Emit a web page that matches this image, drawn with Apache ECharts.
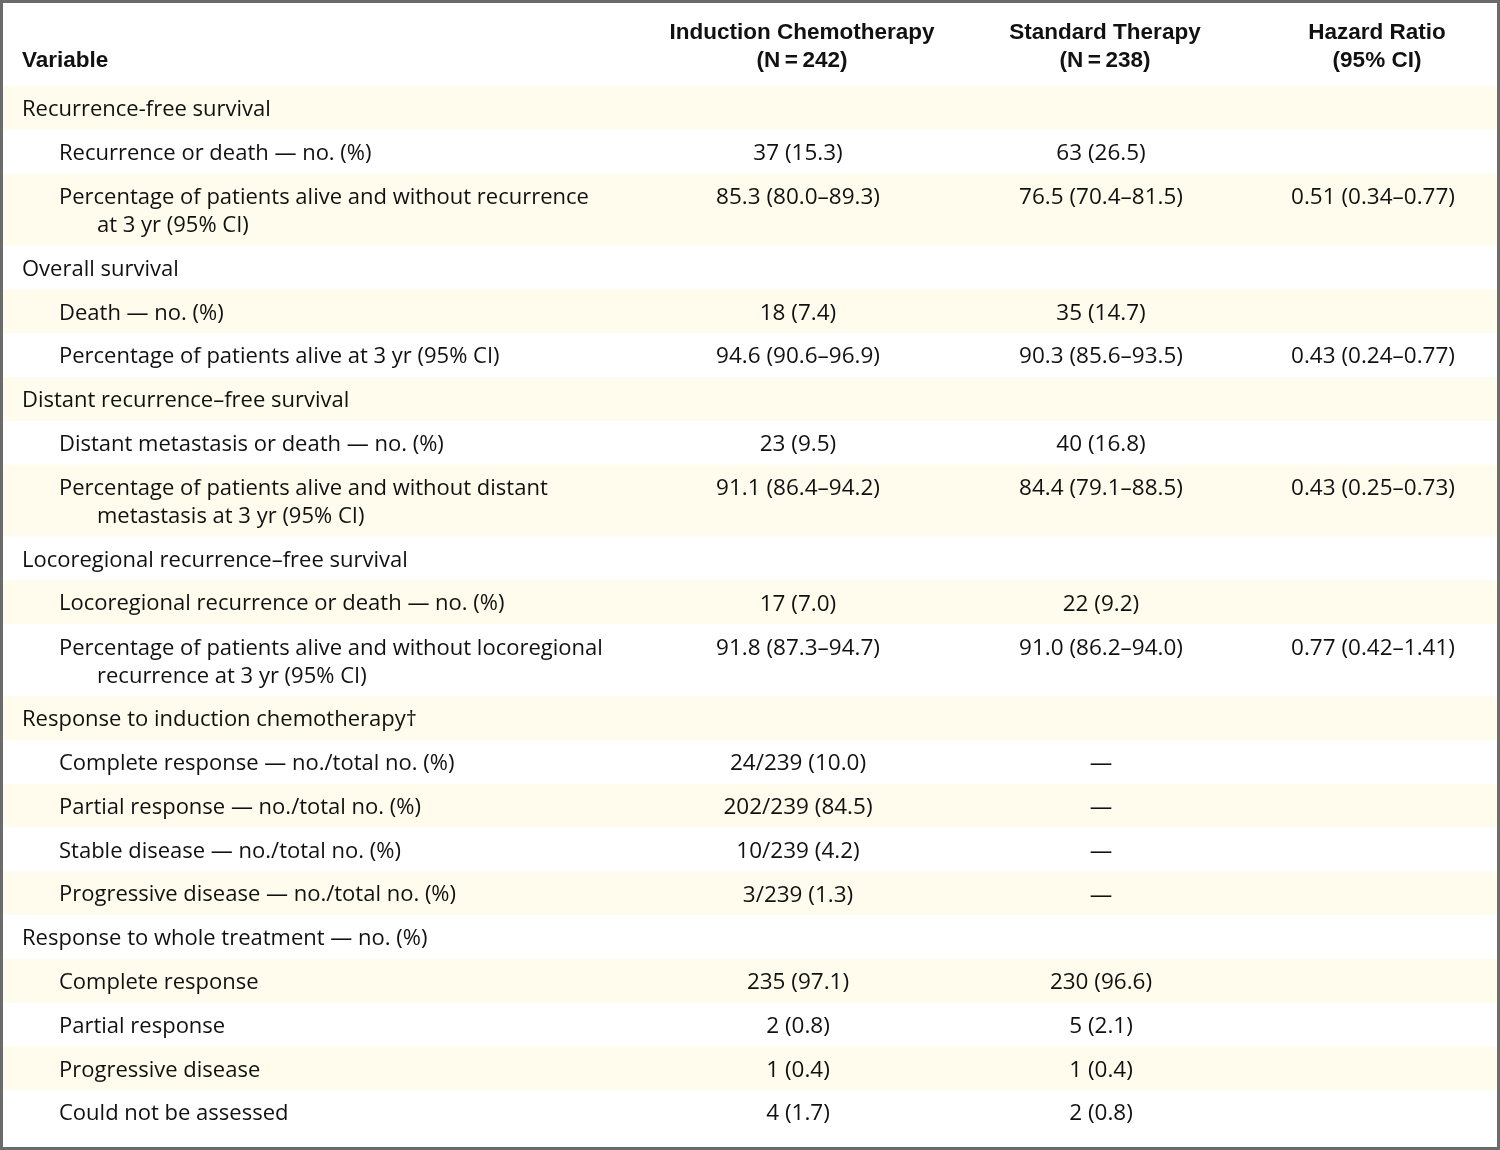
<!DOCTYPE html>
<html>
<head>
<meta charset="utf-8">
<script src="https://cdn.jsdelivr.net/npm/echarts@6/dist/echarts.min.js"></script>
<style>
html,body{margin:0;padding:0;background:#fff;}
#chart{width:1500px;height:1150px;}
</style>
</head>
<body>
<div id="chart"></div>
<script>
// ---- DATA ----
const headerLabels = ['Variable', 'Induction Chemotherapy', 'Standard Therapy', 'Hazard Ratio'];
const headerSubLabels = ['', '(N\u2009=\u2009242)', '(N\u2009=\u2009238)', '(95% CI)'];

const rowLabels = [
  'Recurrence-free survival',
  'Recurrence or death \u2014 no. (%)',
  'Percentage of patients alive and without recurrence',
  'Overall survival',
  'Death \u2014 no. (%)',
  'Percentage of patients alive at 3 yr (95% CI)',
  'Distant recurrence\u2013free survival',
  'Distant metastasis or death \u2014 no. (%)',
  'Percentage of patients alive and without distant',
  'Locoregional recurrence\u2013free survival',
  'Locoregional recurrence or death \u2014 no. (%)',
  'Percentage of patients alive and without locoregional',
  'Response to induction chemotherapy\u2020',
  'Complete response \u2014 no./total no. (%)',
  'Partial response \u2014 no./total no. (%)',
  'Stable disease \u2014 no./total no. (%)',
  'Progressive disease \u2014 no./total no. (%)',
  'Response to whole treatment \u2014 no. (%)',
  'Complete response',
  'Partial response',
  'Progressive disease',
  'Could not be assessed'
];
const rowContinuations = ['', '', 'at 3 yr (95% CI)', '', '', '', '', '', 'metastasis at 3 yr (95% CI)', '', '', 'recurrence at 3 yr (95% CI)', '', '', '', '', '', '', '', '', '', ''];
const rowIndentLevels = [0, 1, 1, 0, 1, 1, 0, 1, 1, 0, 1, 1, 0, 1, 1, 1, 1, 0, 1, 1, 1, 1];

const inductionValues = ['', '37 (15.3)', '85.3 (80.0\u201389.3)', '', '18 (7.4)', '94.6 (90.6\u201396.9)', '', '23 (9.5)', '91.1 (86.4\u201394.2)', '', '17 (7.0)', '91.8 (87.3\u201394.7)', '', '24/239 (10.0)', '202/239 (84.5)', '10/239 (4.2)', '3/239 (1.3)', '', '235 (97.1)', '2 (0.8)', '1 (0.4)', '4 (1.7)'];
const standardValues = ['', '63 (26.5)', '76.5 (70.4\u201381.5)', '', '35 (14.7)', '90.3 (85.6\u201393.5)', '', '40 (16.8)', '84.4 (79.1\u201388.5)', '', '22 (9.2)', '91.0 (86.2\u201394.0)', '', '\u2014', '\u2014', '\u2014', '\u2014', '', '230 (96.6)', '5 (2.1)', '1 (0.4)', '2 (0.8)'];
const hazardRatios = ['', '', '0.51 (0.34\u20130.77)', '', '', '0.43 (0.24\u20130.77)', '', '', '0.43 (0.25\u20130.73)', '', '', '0.77 (0.42\u20131.41)', '', '', '', '', '', '', '', '', '', ''];

// ---- LAYOUT / STYLE ----
const EXTRA_LINE = 0.6457;          // extra height (in row units) for a wrapped second line
const FONT = '"Open Sans", Lato, sans-serif';
const FONT_SIZE = 22;
const VALUE_SIZE = 22.5;
const HEAD_FONT = '"Liberation Sans Narrow", "Liberation Sans", sans-serif';
const HEAD_SIZE = 22.5;
const SHADE = '#FFFCEE';
const TEXT = '#111111';
const COL = { label0: 22, label1: 59, label2: 97, ind: 798, std: 1101, hr: 1373, left: 3, right: 1497 };

const rowStart = [];
let acc = 0;
rowLabels.forEach((_, i) => {
  rowStart.push(acc);
  acc += 1 + (rowContinuations[i] ? EXTRA_LINE : 0);
});
const totalUnits = acc;

function txt(x, y, s, align, font, weight, size) {
  return {
    type: 'text',
    style: {
      x: x, y: y, text: s, textAlign: align, textVerticalAlign: 'middle',
      fill: TEXT, font: (weight || 'normal') + ' ' + (size || FONT_SIZE) + 'px ' + (font || FONT)
    }
  };
}

function renderItem(params, api) {
  const i = api.value(0);
  const children = [];
  if (i < 0) {
    // header
    const y1 = api.coord([0, -1.22])[1];
    const y2 = api.coord([0, -0.58])[1];
    children.push(txt(api.coord([COL.label0, 0])[0], y2, headerLabels[0], 'left', HEAD_FONT, 'bold', HEAD_SIZE));
    [[COL.ind, 1], [COL.std, 2], [COL.hr, 3]].forEach(([cx, k]) => {
      const x = api.coord([cx + 4, 0])[0];
      children.push(txt(x, y1, headerLabels[k], 'center', HEAD_FONT, 'bold', HEAD_SIZE));
      children.push(txt(x, y2, headerSubLabels[k], 'center', HEAD_FONT, 'bold', HEAD_SIZE));
    });
    return { type: 'group', children: children };
  }
  const top = rowStart[i];
  const h = 1 + (rowContinuations[i] ? EXTRA_LINE : 0);
  const p0 = api.coord([COL.left, top]);
  const p1 = api.coord([COL.right, top + h]);
  if (i % 2 === 0) {
    children.push({ type: 'rect', shape: { x: p0[0], y: p0[1], width: p1[0] - p0[0], height: p1[1] - p0[1] }, style: { fill: SHADE } });
  }
  const firstY = api.coord([0, top + (rowContinuations[i] ? 0.56 : 0.545)])[1];
  const lx = rowIndentLevels[i] === 0 ? COL.label0 : COL.label1;
  children.push(txt(api.coord([lx, 0])[0], firstY, rowLabels[i], 'left'));
  if (rowContinuations[i]) {
    const secondY = api.coord([0, top + 1.2])[1];
    children.push(txt(api.coord([COL.label2, 0])[0], secondY, rowContinuations[i], 'left'));
  }
  if (inductionValues[i]) children.push(txt(api.coord([COL.ind, 0])[0], firstY, inductionValues[i], 'center', null, null, VALUE_SIZE));
  if (standardValues[i]) children.push(txt(api.coord([COL.std, 0])[0], firstY, standardValues[i], 'center', null, null, VALUE_SIZE));
  if (hazardRatios[i]) children.push(txt(api.coord([COL.hr, 0])[0], firstY, hazardRatios[i], 'center', null, null, VALUE_SIZE));
  return { type: 'group', children: children };
}

const chart = echarts.init(document.getElementById('chart'), null, { renderer: 'canvas' });
const seriesData = [[-1]].concat(rowLabels.map((_, i) => [i]));
chart.setOption({
  backgroundColor: '#ffffff',
  animation: false,
  grid: { left: 0, right: 0, top: 86, bottom: 16 },
  xAxis: { type: 'value', min: 0, max: 1500, show: false },
  yAxis: { type: 'value', min: 0, max: totalUnits, inverse: true, show: false },
  series: [{
    type: 'custom',
    clip: false,
    renderItem: renderItem,
    data: seriesData,
    encode: { x: -1, y: 0 }
  }],
  graphic: [{
    type: 'rect',
    shape: { x: 1.5, y: 1.5, width: 1497, height: 1147 },
    style: { fill: 'none', stroke: '#6b6b6b', lineWidth: 3 },
    z: 100
  }]
});
</script>
</body>
</html>
